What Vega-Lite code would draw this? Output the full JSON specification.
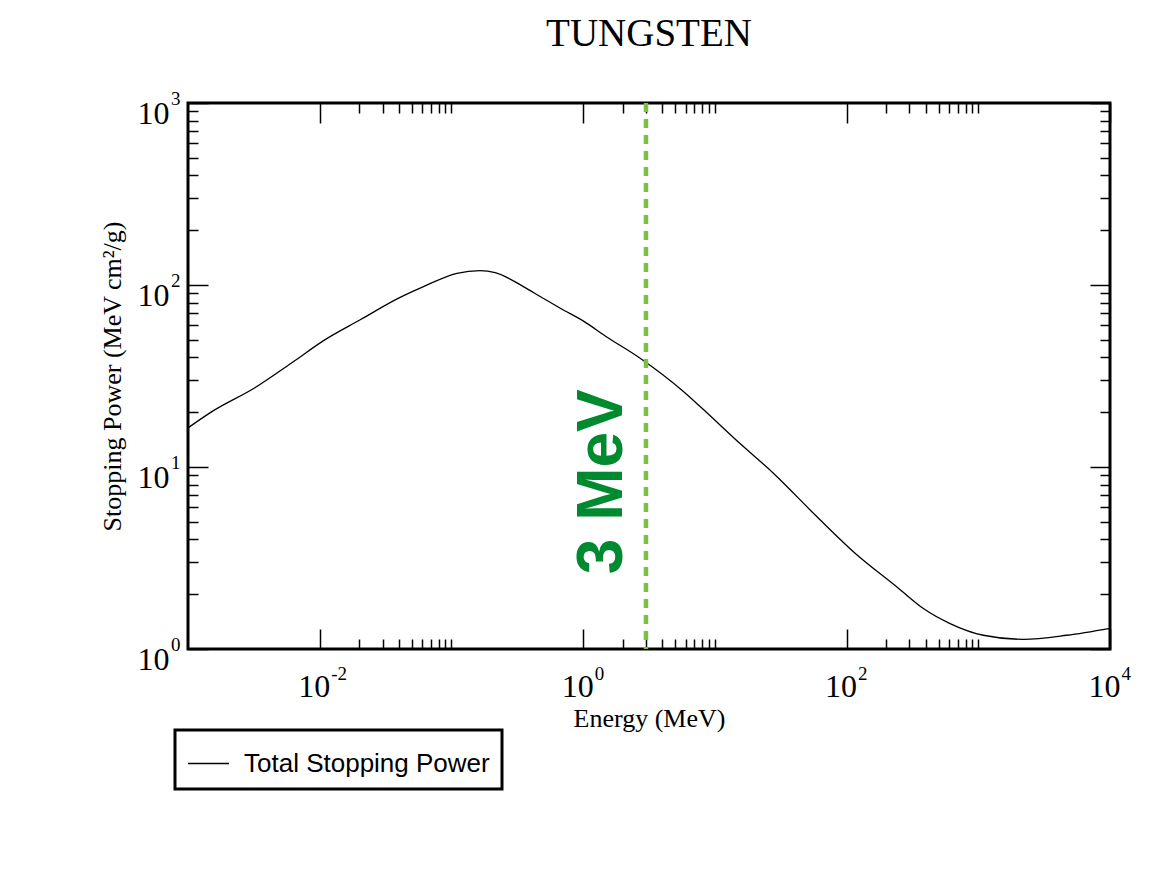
{
  "$schema": "https://vega.github.io/schema/vega-lite/v6.json",
  "width": 922,
  "height": 546,
  "autosize": {"type": "none"},
  "padding": {"left": 188, "top": 103, "right": 42, "bottom": 223},
  "background": "white",
  "title": {"text": "TUNGSTEN", "font": "Liberation Serif", "fontSize": 39, "fontWeight": "normal", "color": "black", "anchor": "middle", "baseline": "alphabetic", "offset": 4},
  "config": {
    "view": {"stroke": "black", "strokeWidth": 3},
    "axis": {"domain": false, "grid": false, "labelFont": "Liberation Serif", "titleFont": "Liberation Serif", "labelColor": "black", "titleColor": "black", "tickColor": "black", "tickWidth": 1.5, "titleFontWeight": "normal", "labelFlush": false, "labelOverlap": false, "labelBound": false},
    "legend": {"strokeWidth": 3}
  },
  "datasets": {
    "curve": [
      {"E": 0.001, "S": 16.4, "series": "Total Stopping Power"},
      {"E": 0.00156, "S": 20.4, "series": "Total Stopping Power"},
      {"E": 0.00315, "S": 27, "series": "Total Stopping Power"},
      {"E": 0.00634, "S": 38, "series": "Total Stopping Power"},
      {"E": 0.0107, "S": 49.5, "series": "Total Stopping Power"},
      {"E": 0.0203, "S": 64.4, "series": "Total Stopping Power"},
      {"E": 0.0397, "S": 84.7, "series": "Total Stopping Power"},
      {"E": 0.0614, "S": 98, "series": "Total Stopping Power"},
      {"E": 0.11, "S": 116, "series": "Total Stopping Power"},
      {"E": 0.165, "S": 120, "series": "Total Stopping Power"},
      {"E": 0.215, "S": 117, "series": "Total Stopping Power"},
      {"E": 0.352, "S": 98, "series": "Total Stopping Power"},
      {"E": 0.472, "S": 86.5, "series": "Total Stopping Power"},
      {"E": 0.67, "S": 74.5, "series": "Total Stopping Power"},
      {"E": 1.0, "S": 63.5, "series": "Total Stopping Power"},
      {"E": 1.5, "S": 52, "series": "Total Stopping Power"},
      {"E": 2.71, "S": 39.6, "series": "Total Stopping Power"},
      {"E": 5.77, "S": 26, "series": "Total Stopping Power"},
      {"E": 7.73, "S": 21.5, "series": "Total Stopping Power"},
      {"E": 16, "S": 13.2, "series": "Total Stopping Power"},
      {"E": 27.8, "S": 9.25, "series": "Total Stopping Power"},
      {"E": 59.4, "S": 5.34, "series": "Total Stopping Power"},
      {"E": 116, "S": 3.36, "series": "Total Stopping Power"},
      {"E": 240, "S": 2.2, "series": "Total Stopping Power"},
      {"E": 383, "S": 1.67, "series": "Total Stopping Power"},
      {"E": 611, "S": 1.38, "series": "Total Stopping Power"},
      {"E": 1091, "S": 1.19, "series": "Total Stopping Power"},
      {"E": 2198, "S": 1.13, "series": "Total Stopping Power"},
      {"E": 4690, "S": 1.19, "series": "Total Stopping Power"},
      {"E": 10000, "S": 1.3, "series": "Total Stopping Power"}
    ],
    "marker": [{"E": 3}],
    "note": [{"E": 1.42, "S": 8.3, "label": "3 MeV"}]
  },
  "layer": [
    {
      "data": {"name": "curve"},
      "mark": {"type": "line", "strokeWidth": 1.3, "interpolate": "monotone"},
      "encoding": {
        "x": {
          "field": "E", "type": "quantitative",
          "scale": {"type": "log", "domain": [0.001, 10000]},
          "axis": {
            "orient": "bottom", "title": "Energy (MeV)", "titleFontSize": 26, "titlePadding": -7,
            "values": [0.01, 0.02, 0.03, 0.04, 0.05, 0.06, 0.07, 0.08, 0.09, 0.1, 1, 2, 3, 4, 5, 6, 7, 8, 9, 10, 100, 200, 300, 400, 500, 600, 700, 800, 900, 1000, 10000],
            "tickSize": {"condition": {"test": "datum.value == 0.01 || datum.value == 1 || datum.value == 100 || datum.value == 10000", "value": -20}, "value": -10},
            "labelExpr": "(datum.value == 0.01 || datum.value == 1 || datum.value == 100 || datum.value == 10000) ? '10' : ''",
            "labelFontSize": 32, "labelPadding": 42, "labelOffset": -6
          }
        },
        "y": {
          "field": "S", "type": "quantitative",
          "scale": {"type": "log", "domain": [1, 1000]},
          "axis": {
            "orient": "left", "title": "Stopping Power (MeV cm²/g)", "titleFontSize": 26, "titlePadding": 12,
            "values": [1, 2, 3, 4, 5, 6, 7, 8, 9, 10, 20, 30, 40, 50, 60, 70, 80, 90, 100, 200, 300, 400, 500, 600, 700, 800, 900, 1000],
            "tickSize": {"condition": {"test": "datum.value == 1 || datum.value == 10 || datum.value == 100 || datum.value == 1000", "value": -20}, "value": -10},
            "labelExpr": "(datum.value == 1 || datum.value == 10 || datum.value == 100 || datum.value == 1000) ? '10' : ''",
            "labelFontSize": 32, "labelPadding": 39, "labelOffset": 10, "labelBaseline": "middle"
          }
        },
        "stroke": {
          "field": "series", "type": "nominal",
          "scale": {"range": ["black"]},
          "legend": {
            "orient": "none", "legendX": -13, "legendY": 627, "title": null,
            "strokeColor": "black", "padding": 12, "symbolType": "stroke", "symbolSize": 1681,
            "symbolStrokeWidth": 1.5, "symbolStrokeColor": "black", "labelFont": "Liberation Sans",
            "labelFontSize": 26, "labelColor": "black", "labelOffset": 14, "labelLimit": 400
          }
        }
      }
    },
    {
      "data": {"name": "marker"},
      "mark": {"type": "rule", "color": "#7ac143", "strokeWidth": 4.5, "strokeDash": [9, 7]},
      "encoding": {
        "x": {
          "field": "E", "type": "quantitative",
          "axis": {
            "orient": "top", "title": null, "labels": false,
            "values": [0.01, 0.02, 0.03, 0.04, 0.05, 0.06, 0.07, 0.08, 0.09, 0.1, 1, 2, 3, 4, 5, 6, 7, 8, 9, 10, 100, 200, 300, 400, 500, 600, 700, 800, 900, 1000, 10000],
            "tickSize": {"condition": {"test": "datum.value == 0.01 || datum.value == 1 || datum.value == 100 || datum.value == 10000", "value": -20}, "value": -10}
          }
        }
      }
    },
    {
      "data": {"name": "note"},
      "mark": {"type": "text", "angle": 270, "font": "Liberation Sans", "fontWeight": "bold", "fontSize": 64, "color": "#008a30", "align": "center", "baseline": "middle"},
      "encoding": {
        "x": {
          "field": "E", "type": "quantitative",
          "axis": {
            "orient": "bottom", "title": null, "ticks": false, "tickSize": 0,
            "values": [0.01, 1, 100, 10000],
            "labelExpr": "datum.value == 0.01 ? '-2' : datum.value == 1 ? '0' : datum.value == 100 ? '2' : '4'",
            "labelFontSize": 19, "labelAlign": "left", "labelPadding": 15, "labelOffset": 11
          }
        },
        "y": {
          "field": "S", "type": "quantitative",
          "axis": {
            "orient": "right", "title": null, "labels": false,
            "values": [1, 2, 3, 4, 5, 6, 7, 8, 9, 10, 20, 30, 40, 50, 60, 70, 80, 90, 100, 200, 300, 400, 500, 600, 700, 800, 900, 1000],
            "tickSize": {"condition": {"test": "datum.value == 1 || datum.value == 10 || datum.value == 100 || datum.value == 1000", "value": -20}, "value": -10}
          }
        },
        "text": {"field": "label"}
      }
    },
    {
      "data": {"name": "note"},
      "mark": {"type": "point", "opacity": 0},
      "encoding": {
        "x": {"field": "E", "type": "quantitative", "axis": null},
        "y": {
          "field": "S", "type": "quantitative",
          "axis": {
            "orient": "left", "title": null, "ticks": false, "tickSize": 0,
            "values": [1, 10, 100, 1000],
            "labelExpr": "datum.value == 1 ? '0' : datum.value == 10 ? '1' : datum.value == 100 ? '2' : '3'",
            "labelFontSize": 19, "labelPadding": 8, "labelOffset": -5, "labelBaseline": "middle"
          }
        }
      }
    }
  ],
  "resolve": {"axis": {"x": "independent", "y": "independent"}}
}
